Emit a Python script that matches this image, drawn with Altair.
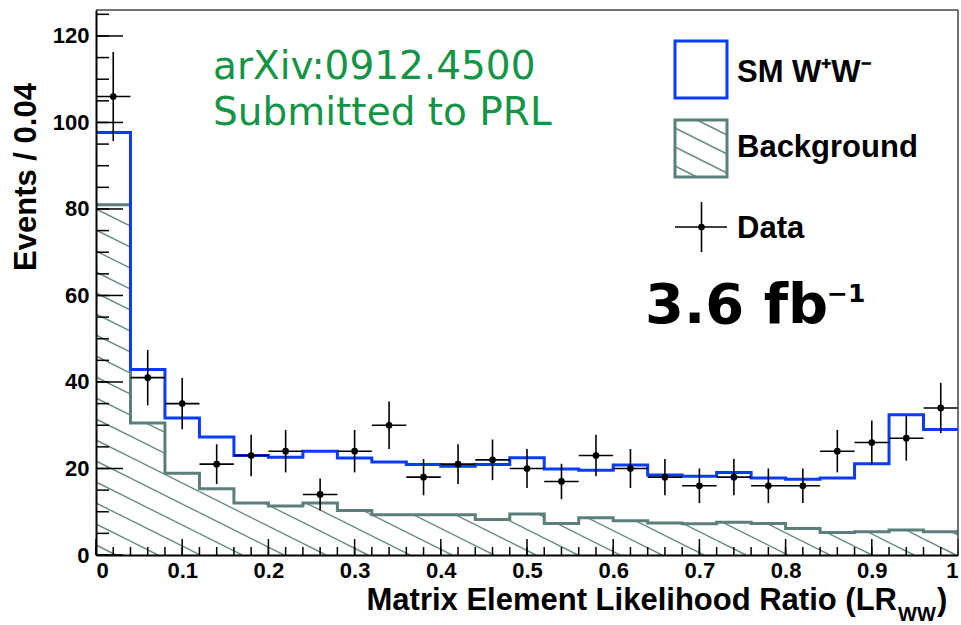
import altair as alt
import pandas as pd
import numpy as np

# ---------------- data ----------------
BIN_WIDTH = 0.04
N_BINS = 25
bin_lo = [round(i * BIN_WIDTH, 2) for i in range(N_BINS)]

background = [81.0, 30.5, 18.9, 15.3, 12.0, 11.3, 12.0, 10.3, 9.3, 9.3,
              9.3, 8.2, 9.5, 7.3, 8.6, 7.9, 7.4, 7.2, 7.6, 7.3,
              6.1, 5.2, 5.4, 5.8, 5.4]
sm_total = [97.7, 42.9, 31.7, 27.3, 23.0, 22.6, 24.0, 22.4, 21.5, 20.9,
            20.5, 20.9, 22.5, 19.9, 19.6, 20.8, 18.5, 18.2, 19.1, 17.8,
            17.5, 17.8, 21.1, 32.4, 29.0]
data_counts = [106, 41, 35, 21, 23, 24, 14, 24, 30, 18,
               21, 22, 20, 17, 23, 20, 18, 16, 18, 16,
               16, 24, 26, 27, 34]
data_err = [10.3, 6.4, 5.9, 4.6, 4.8, 4.9, 3.7, 4.9, 5.5, 4.2,
            4.6, 4.7, 4.5, 4.1, 4.8, 4.5, 4.2, 4.0, 4.2, 4.0,
            4.0, 4.9, 5.1, 5.2, 5.8]

x_label_values = [0, 0.1, 0.2, 0.3, 0.4, 0.5, 0.6, 0.7, 0.8, 0.9, 1.0]
y_label_values = [0, 20, 40, 60, 80, 100, 120]
x_minor_ticks = [round(i * 0.02, 2) for i in range(51)]
y_minor_ticks = list(range(0, 126, 5))

x_title_main = "Matrix Element Likelihood Ratio (LR"
x_title_sub = "WW"
x_title_end = ")"
y_title = "Events / 0.04"
legend_labels = ["SM W\u207aW\u207b", "Background", "Data"]
note_lines = ["arXiv:0912.4500", "Submitted to PRL"]
lumi_text = "3.6 fb"
lumi_sup = "\u22121"

# ---------------- layout / style ----------------
W, H = 862, 545
YMAX = 126
BLUE = "#0a3cf5"
BG = "#5b7f7b"
HATCH = "#6a8d88"
GREEN = "#149446"
LAB_FONT = "Liberation Sans"
HATCH_SLOPE = 0.5      # pixel slope of the hatch lines (down to the right)
HATCH_GAP = 21         # vertical pixel gap between hatch lines

xs = alt.Scale(domain=[0, 1], nice=False, zero=False)
ys = alt.Scale(domain=[0, YMAX], nice=False)

edges = bin_lo + [1.0]
step_df = pd.DataFrame({
    "x": edges,
    "bg": background + [background[-1]],
    "sm": sm_total + [sm_total[-1]],
})
pts_df = pd.DataFrame({
    "lo": bin_lo,
    "hi": [round(b + BIN_WIDTH, 2) for b in bin_lo],
    "c": [round(b + BIN_WIDTH / 2, 2) for b in bin_lo],
    "n": data_counts,
    "err": data_err,
})
pts_df["n_lo"] = pts_df["n"] - pts_df["err"]
pts_df["n_hi"] = pts_df["n"] + pts_df["err"]

# hatch lines clipped to the background histogram (computed in pixel space,
# converted back to data units so they go through the chart's scales)
px_x = W / 1.0
px_y = H / YMAX
segs = []
for c in np.arange(-HATCH_SLOPE * W, H + HATCH_GAP, HATCH_GAP):
    for lo, v in zip(bin_lo, background):
        x_lo, x_hi = lo * px_x, (lo + BIN_WIDTH) * px_x
        top = H - v * px_y
        a = max(x_lo, (top - c) / HATCH_SLOPE)
        b = min(x_hi, (H - c) / HATCH_SLOPE)
        if b - a > 0.3:
            ya, yb = c + HATCH_SLOPE * a, c + HATCH_SLOPE * b
            segs.append({"x": a / px_x, "x2": b / px_x,
                         "y": (H - ya) / px_y, "y2": (H - yb) / px_y})
hatch_df = pd.DataFrame(segs)

# legend hatch box (pixel space)
LBX0, LBX1, LBY0, LBY1 = 579, 631, 110, 167
lsegs = []
for c in np.arange(LBY0 - 30, LBY1 + 5, 19):
    xa, xb = LBX0, LBX1
    ya, yb = c, c + HATCH_SLOPE * (LBX1 - LBX0)
    if yb < LBY0 or ya > LBY1:
        continue
    if ya < LBY0:
        xa = LBX0 + (LBY0 - c) / HATCH_SLOPE
        ya = LBY0
    if yb > LBY1:
        xb = LBX0 + (LBY1 - c) / HATCH_SLOPE
        yb = LBY1
    if xb - xa > 1:
        lsegs.append({"px": xa, "px2": xb, "py": ya, "py2": yb})
leg_hatch_df = pd.DataFrame(lsegs)

one = pd.DataFrame({"k": [0]})

# ---------------- layers ----------------
hatch = alt.Chart(hatch_df).mark_rule(color=HATCH, strokeWidth=1.4).encode(
    x=alt.X("x:Q", scale=xs), x2="x2:Q",
    y=alt.Y("y:Q", scale=ys), y2="y2:Q")

bg_line = alt.Chart(step_df).mark_line(interpolate="step-after", color=BG, strokeWidth=3).encode(
    x=alt.X("x:Q", scale=xs, axis=alt.Axis(
        values=x_label_values, title=None, ticks=False, grid=False,
        labelExpr="datum.value == 0 || datum.value == 1 ? format(datum.value, 'd') : format(datum.value, '.1f')",
        labelFont=LAB_FONT, labelFontWeight="bold", labelFontSize=22, labelColor="black",
        labelPadding=5, domainColor="black", domainWidth=2, zindex=2, labelFlush=True)),
    y=alt.Y("bg:Q", scale=ys, axis=alt.Axis(
        values=y_label_values, title=None, ticks=False, grid=False,
        labelFont=LAB_FONT, labelFontWeight="bold", labelFontSize=22, labelColor="black",
        labelPadding=7, domainColor="black", domainWidth=2, zindex=2, labelFlush=False)))

sm_line = alt.Chart(step_df).mark_line(interpolate="step-after", color=BLUE, strokeWidth=3).encode(
    x=alt.X("x:Q", scale=xs), y=alt.Y("sm:Q", scale=ys))

err_v = alt.Chart(pts_df).mark_rule(color="black", strokeWidth=1.6).encode(
    x=alt.X("c:Q", scale=xs), y=alt.Y("n_lo:Q", scale=ys), y2="n_hi:Q")
err_h = alt.Chart(pts_df).mark_rule(color="black", strokeWidth=1.6).encode(
    x=alt.X("lo:Q", scale=xs), x2="hi:Q", y=alt.Y("n:Q", scale=ys))
dots = alt.Chart(pts_df).mark_circle(color="black", size=45, opacity=1).encode(
    x=alt.X("c:Q", scale=xs), y=alt.Y("n:Q", scale=ys))

# ticks (inside the frame)
yt_minor = alt.Chart(pd.DataFrame({"v": y_minor_ticks})).mark_rule(color="black", strokeWidth=1.5).encode(
    y=alt.Y("v:Q", scale=ys), x=alt.value(0), x2=alt.value(13))
yt_major = alt.Chart(pd.DataFrame({"v": y_label_values})).mark_rule(color="black", strokeWidth=1.5).encode(
    y=alt.Y("v:Q", scale=ys), x=alt.value(0), x2=alt.value(27))
xt_minor = alt.Chart(pd.DataFrame({"v": x_minor_ticks})).mark_rule(color="black", strokeWidth=1.5).encode(
    x=alt.X("v:Q", scale=xs), y=alt.value(H), y2=alt.value(H - 8))
xt_major = alt.Chart(pd.DataFrame({"v": x_label_values})).mark_rule(color="black", strokeWidth=1.5).encode(
    x=alt.X("v:Q", scale=xs), y=alt.value(H), y2=alt.value(H - 16))

frame_top = alt.Chart(one).mark_rule(color="#444444", strokeWidth=1.5).encode(
    x=alt.value(0), x2=alt.value(W), y=alt.value(0))
frame_right = alt.Chart(one).mark_rule(color="#444444", strokeWidth=1.5).encode(
    x=alt.value(W), y=alt.value(0), y2=alt.value(H))

# legend
leg_blue = alt.Chart(one).mark_rect(fill="white", stroke=BLUE, strokeWidth=3).encode(
    x=alt.value(579), x2=alt.value(631), y=alt.value(31), y2=alt.value(88))
leg_hatch = alt.Chart(leg_hatch_df).mark_rule(color=HATCH, strokeWidth=1.4).encode(
    x=alt.X("px:Q", scale=None), x2="px2:Q", y=alt.Y("py:Q", scale=None), y2="py2:Q")
leg_bg_box = alt.Chart(one).mark_rect(fillOpacity=0, stroke=BG, strokeWidth=3).encode(
    x=alt.value(LBX0), x2=alt.value(LBX1), y=alt.value(LBY0), y2=alt.value(LBY1))
leg_dh = alt.Chart(one).mark_rule(color="black", strokeWidth=1.6).encode(
    x=alt.value(579), x2=alt.value(631), y=alt.value(217))
leg_dv = alt.Chart(one).mark_rule(color="black", strokeWidth=1.6).encode(
    x=alt.value(605.5), y=alt.value(192), y2=alt.value(242))
leg_dot = alt.Chart(one).mark_circle(color="black", size=45, opacity=1).encode(
    x=alt.value(605.5), y=alt.value(217))

def txt(s, x, y, size, font=LAB_FONT, weight="bold", color="black", align="left", angle=0,
        baseline="alphabetic"):
    kw = dict(text=s, font=font, fontSize=size, fontWeight=weight, color=color,
              align=align, baseline=baseline)
    if angle:
        kw["angle"] = angle
    return alt.Chart(one).mark_text(**kw).encode(x=alt.value(x), y=alt.value(y))

texts = [
    txt(legend_labels[0], 641, 71.7, 31),
    txt(legend_labels[1], 641, 146.7, 31),
    txt(legend_labels[2], 641, 228.3, 31),
    txt(note_lines[0], 117, 69.3, 39, font="DejaVu Sans", weight="normal", color=GREEN),
    txt(note_lines[1], 117, 115, 39, font="DejaVu Sans", weight="normal", color=GREEN),
    txt(lumi_text, 549, 313, 56, font="DejaVu Sans"),
    txt(lumi_sup, 731, 292, 25, font="DejaVu Sans"),
    txt(x_title_main, 801, 600, 31, align="right"),
    txt(x_title_sub, 802, 611, 20),
    txt(x_title_end, 841, 600, 31),
    txt(y_title, -69, 167, 31, angle=270, align="center", baseline="middle"),
]

chart = alt.layer(
    hatch, bg_line, sm_line, err_v, err_h, dots,
    yt_minor, yt_major, xt_minor, xt_major, frame_top, frame_right,
    leg_blue, leg_hatch, leg_bg_box, leg_dh, leg_dv, leg_dot,
    *texts,
).properties(
    width=W, height=H,
    padding={"left": 96, "top": 10, "right": 3, "bottom": 70},
    autosize=alt.AutoSizeParams(type="none"),
    background="white",
).configure_view(stroke=None)

chart.save("out.html", embed_options={"renderer": "svg", "actions": False})
